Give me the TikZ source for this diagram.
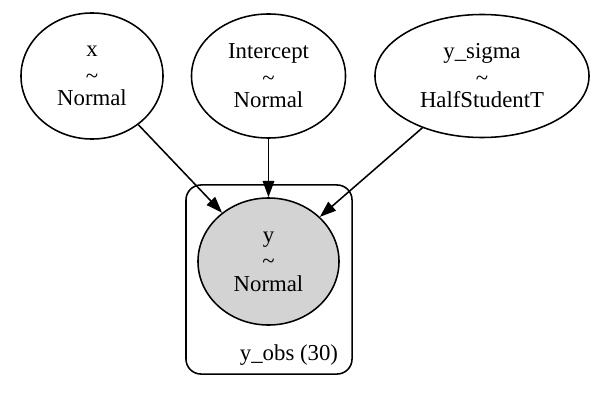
\documentclass[tikz,border=0pt]{standalone}
\usepackage{fontspec}
\setmainfont{Liberation Serif}
\usetikzlibrary{arrows.meta,positioning,shapes.geometric}
\definecolor{obsgray}{RGB}{211,211,211}
\newcommand{\dist}{\raisebox{-1.5pt}{\textasciitilde}}
\tikzset{
  rv/.style={draw, ellipse, line width=1.1pt, inner sep=0pt, align=center,
             font=\fontsize{16.2}{17.4}\selectfont},
  obs/.style={rv, fill=obsgray},
  edge/.style={line width=1.1pt, -{Triangle[length=11.6pt, width=8.2pt]}},
  platebox/.style={draw, line width=1.1pt, rounded corners=0.375cm, inner sep=0pt,
                   minimum width=4.15cm, minimum height=4.725cm},
}

\begin{document}
\begin{tikzpicture}[x=0.025cm, y=-0.025cm]
    \useasboundingbox (0,0) rectangle (603,393);
    % plate
    \node[platebox] (plate) at (269,279.5) {};
    \node[font=\fontsize{16.2}{17.4}\selectfont, inner sep=0pt] (platelbl) at (289,355) {y\_obs (30)};
    % random variables
    \node[rv, minimum width=3.55cm, minimum height=3.15cm] (x) at (92,76)
         {x\\\dist\\Normal};
    \node[rv, minimum width=3.85cm, minimum height=3.1cm] (icpt) at (268.5,76)
         {Intercept\\\dist\\Normal};
    \node[rv, minimum width=5.35cm, minimum height=3.075cm] (ysig) at (482,76)
         {y\_sigma\\\dist\\HalfStudentT};
    \node[obs, minimum width=3.525cm, minimum height=3.175cm] (y) at (268.5,261.5)
         {y\\\dist\\Normal};
    % edges
    \draw[edge] (x) -- (y);
    \draw[edge] (icpt) -- (y);
    \draw[edge] (ysig) -- (y);
\end{tikzpicture}
\end{document}
